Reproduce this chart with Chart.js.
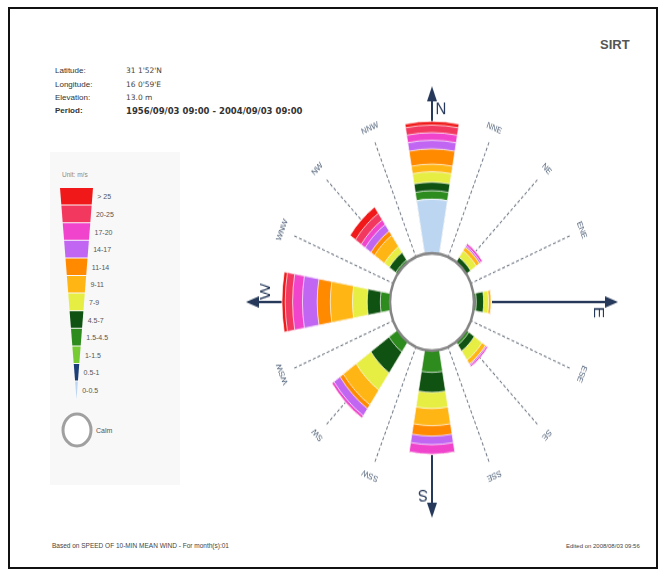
<!DOCTYPE html>
<html>
<head>
<meta charset="utf-8">
<script src="https://cdn.jsdelivr.net/npm/chart.js@4.4.1/dist/chart.umd.min.js"></script>
<style>
  body { margin: 0; background: #fff; font-family: "Liberation Sans", Arial, sans-serif; }
  #page { position: relative; width: 665px; height: 577px; overflow: hidden; }
  #frame { position: absolute; left: 8px; top: 7px; width: 646px; height: 558px; border: 2px solid #111; }
  .t { position: absolute; font-size: 8px; line-height: 10px; color: #333; white-space: nowrap; }
  .v { font-family: "DejaVu Sans", sans-serif; font-size: 7.5px; color: #444; }
  .b { font-weight: bold; }
  #legend { position: absolute; left: 0; top: 0; }
  #rose { position: absolute; left: 212px; top: 82px; transform: scaleY(1.16); transform-origin: 220px 220px; }
</style>
</head>
<body>
<div id="page">
  <div id="frame"></div>
  <div class="t b" style="left:600px;top:37px;font-size:13px;line-height:15px;color:#555">SIRT</div>

  <div class="t" style="left:55px;top:66px">Latitude:</div>
  <div class="t v" style="left:126px;top:66px">31 1'52'N</div>
  <div class="t" style="left:55px;top:80px">Longitude:</div>
  <div class="t v" style="left:126px;top:80px">16 0'59'E</div>
  <div class="t" style="left:55px;top:93px">Elevation:</div>
  <div class="t v" style="left:126px;top:93px">13.0 m</div>
  <div class="t b" style="left:55px;top:106px">Period:</div>
  <div class="t b v" style="left:126px;top:106px;font-size:8.5px;color:#333">1956/09/03 09:00 - 2004/09/03 09:00</div>

  <svg id="legend" width="200" height="500"></svg>

  <div class="t" style="left:52px;top:541px;font-size:6.5px;color:#444">Based on SPEED OF 10-MIN MEAN WIND - For month(s):01</div>
  <div class="t" style="left:566px;top:541px;font-size:6px;color:#444">Edited on 2008/08/03 09:56</div>

  <canvas id="rose" width="440" height="440"></canvas>
</div>

<script>
// direction sectors, clockwise from north
const directions = ['N', 'NNE', 'NE', 'ENE', 'E', 'ESE', 'SE', 'SSE', 'S', 'SSW', 'SW', 'WSW', 'W', 'WNW', 'NW', 'NNW'];

// speed classes (m/s), slowest first
const speedClasses = ['0-0.5', '0.5-1', '1-1.5', '1.5-4.5', '4.5-7', '7-9', '9-11', '11-14', '14-17', '17-20', '20-25', '> 25'];
const classColors = ['#bcd6f2', '#1d3f78', '#77cc33', '#2e8b1e', '#0f5212', '#e6ee44', '#ffb514', '#ff8a00', '#c166f2', '#f044cc', '#f2385e', '#f01818'];

// frequency (%) per speed class for each sector that has wind
const freqN  = [5.8, 0, 0, 0.9, 0.9, 1.1, 0.8, 1.6, 0.9, 0.8, 0.8, 0.4];
const freqNE = [0, 0, 0, 0, 0.75, 0.85, 0.45, 0, 0.2, 0.25, 0, 0];
const freqE  = [0, 0, 0, 0.4, 0.9, 0.6, 0.3, 0, 0, 0, 0, 0];
const freqSE = [0, 0, 0, 0.5, 0.8, 1.15, 0.5, 0, 0.15, 0.2, 0, 0];
const freqS  = [0, 0, 0, 2.4, 2.1, 1.7, 1.8, 1.1, 0.9, 1.0, 0, 0];
const freqSW = [0, 0, 0, 1.4, 2.7, 2.2, 1.9, 0.5, 0.9, 0.3, 0, 0];
const freqW  = [0, 0, 0, 1.3, 1.6, 1.8, 2.7, 1.6, 1.8, 1.2, 0.9, 0.4];
const freqNW = [0, 0, 0, 0.4, 0.95, 0.75, 1.45, 0.55, 0.85, 0.6, 0.85, 0.8];

const noWind = speedClasses.map(() => 0);
const sectorFreq = {
  N: freqN, NE: freqNE, E: freqE, SE: freqSE, S: freqS, SW: freqSW, W: freqW, NW: freqNW
};

// sector widths in degrees: filled sectors are narrower than the empty ones between them
const wedgeAngle = 20;
const gapAngle = 25;
const calmOffset = 5;   // radius of the calm circle, in % units

// cumulative sums so each speed class is stacked outward from the calm circle
function cumulative(dir, ci) {
  const f = sectorFreq[dir] || noWind;
  let s = 0;
  for (let k = 0; k <= ci; k++) s += f[k];
  return s;
}

const datasets = speedClasses.map((c, ci) => ({
  label: c,
  data: directions.map(d => cumulative(d, ci)),
  backgroundColor: classColors[ci],
  borderColor: 'rgba(255,255,255,0.7)',
  borderWidth: 1,
  angle: ctx => (ctx.dataIndex % 2 === 0 ? wedgeAngle : gapAngle)
}));

// compass lines, labels and the calm circle
const compass = {
  id: 'compass',
  beforeDatasetsDraw(chart) {
    const s = chart.scales.r;
    const ctx = chart.ctx;
    const r0 = s.getDistanceFromCenterForValue(0);
    ctx.save();
    ctx.translate(s.xCenter, s.yCenter);
    directions.forEach((d, i) => {
      ctx.save();
      ctx.rotate(i * 22.5 * Math.PI / 180);
      if (i % 4 === 0) {
        ctx.strokeStyle = '#26395a';
        ctx.fillStyle = '#26395a';
        ctx.lineWidth = 2;
        ctx.beginPath();
        ctx.moveTo(0, -r0);
        ctx.lineTo(0, -176);
        ctx.stroke();
        ctx.beginPath();
        ctx.moveTo(0, -186);
        ctx.lineTo(-5, -173);
        ctx.lineTo(5, -173);
        ctx.closePath();
        ctx.fill();
        ctx.font = '15px "Liberation Sans", Arial, sans-serif';
        ctx.textAlign = 'center';
        ctx.textBaseline = 'middle';
        ctx.fillText(d, 9, -166);
      } else {
        ctx.strokeStyle = '#6f7884';
        ctx.lineWidth = 1;
        ctx.setLineDash([3, 2]);
        ctx.beginPath();
        ctx.moveTo(0, -r0);
        ctx.lineTo(0, -150);
        ctx.stroke();
        ctx.fillStyle = '#4f6078';
        ctx.font = '7.5px "Liberation Sans", Arial, sans-serif';
        ctx.textAlign = 'center';
        ctx.textBaseline = 'middle';
        ctx.fillText(d, 0, -162);
      }
      ctx.restore();
    });
    ctx.restore();
  },
  afterDatasetsDraw(chart) {
    const s = chart.scales.r;
    const ctx = chart.ctx;
    const r0 = s.getDistanceFromCenterForValue(0);
    ctx.save();
    ctx.beginPath();
    ctx.arc(s.xCenter, s.yCenter, r0 + 1, 0, Math.PI * 2);
    ctx.fillStyle = '#fff';
    ctx.fill();
    ctx.lineWidth = 2.5;
    ctx.strokeStyle = '#858585';
    ctx.stroke();
    ctx.restore();
  }
};

new Chart(document.getElementById('rose'), {
  type: 'polarArea',
  data: { labels: directions, datasets: datasets },
  options: {
    responsive: false,
    animation: false,
    layout: { padding: 56 },
    plugins: { legend: { display: false }, tooltip: { enabled: false } },
    scales: {
      r: {
        min: -calmOffset,
        max: 15,
        startAngle: -wedgeAngle / 2,
        ticks: { display: false },
        grid: { display: false },
        angleLines: { display: false },
        pointLabels: { display: false }
      }
    }
  },
  plugins: [compass]
});

// speed legend: tapered bar, fastest class on top
const svgNS = 'http://www.w3.org/2000/svg';
const lg = document.getElementById('legend');
function el(tag, attrs, text) {
  const e = document.createElementNS(svgNS, tag);
  for (const k in attrs) e.setAttribute(k, attrs[k]);
  if (text) e.textContent = text;
  lg.appendChild(e);
  return e;
}
el('rect', { x: 50, y: 152, width: 130, height: 333, fill: '#f8f8f8' });
el('text', { x: 62, y: 177, 'font-size': 6.5, fill: '#888', 'font-family': 'Liberation Sans, Arial' }, 'Unit: m/s');

const lTop = 188, rowH = 17.6, xl0 = 60, xr0 = 93, tipX = 76.5;
const lBottom = lTop + rowH * speedClasses.length;
const edgeL = y => xl0 + (tipX - xl0) * (y - lTop) / (lBottom - lTop);
const edgeR = y => xr0 - (xr0 - tipX) * (y - lTop) / (lBottom - lTop);
for (let row = 0; row < speedClasses.length; row++) {
  const ci = speedClasses.length - 1 - row;
  const y0 = lTop + row * rowH;
  const y1 = y0 + rowH - 1;
  el('polygon', {
    points: [edgeL(y0), y0, edgeR(y0), y0, edgeR(y1), y1, edgeL(y1), y1].join(' '),
    fill: classColors[ci]
  });
  el('text', {
    x: edgeR(y0 + rowH / 2) + 5, y: y0 + rowH / 2 + 2.5,
    'font-size': 7, fill: '#555', 'font-family': 'Liberation Sans, Arial'
  }, speedClasses[ci]);
}
el('ellipse', { cx: 77, cy: 430, rx: 14, ry: 16, fill: '#fff', stroke: '#a0a0a0', 'stroke-width': 3 });
el('text', { x: 96, y: 433, 'font-size': 7, fill: '#555', 'font-family': 'Liberation Sans, Arial' }, 'Calm');
</script>
</body>
</html>
